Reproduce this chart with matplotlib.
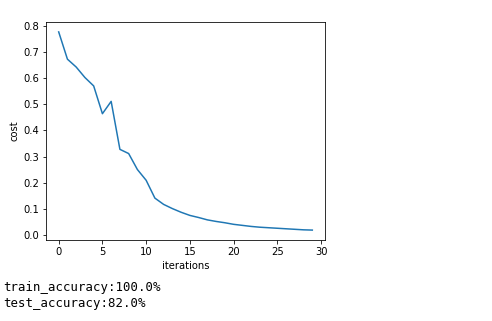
import matplotlib
matplotlib.use("Agg")
import matplotlib.pyplot as plt

iterations = list(range(30))
cost = [0.776, 0.672, 0.642, 0.602, 0.570, 0.464, 0.511, 0.328, 0.312, 0.251,
        0.210, 0.142, 0.118, 0.102, 0.088, 0.076, 0.068, 0.059, 0.053, 0.048,
        0.042, 0.038, 0.034, 0.031, 0.029, 0.027, 0.025, 0.023, 0.021, 0.020]
lines = ["train_accuracy:100.0%", "test_accuracy:82.0%"]

W, H = 492, 321
fig = plt.figure(figsize=(W / 72, H / 72), dpi=72)
ax = fig.add_axes([46 / W, 1 - 240 / H, 279 / W, 218 / H])
ax.plot(iterations, cost, color="#1f77b4", linewidth=1.5)
ax.set_xlabel("iterations", fontsize=10)
ax.set_ylabel("cost", fontsize=10)
ax.set_xticks([0, 5, 10, 15, 20, 25, 30])
ax.tick_params(labelsize=10)

fig.text(3 / W, 1 - 287 / H, lines[0], family="DejaVu Sans Mono", fontsize=12.4,
         va="center", ha="left")
fig.text(3 / W, 1 - 303 / H, lines[1], family="DejaVu Sans Mono", fontsize=12.4,
         va="center", ha="left")

fig.savefig("out.png", dpi=72)
